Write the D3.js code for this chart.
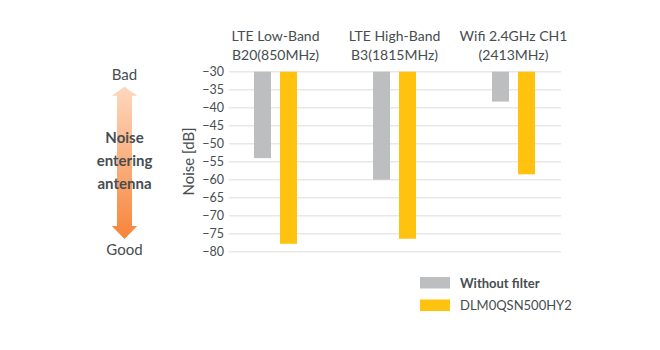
<!DOCTYPE html>
<html>
<head>
<meta charset="utf-8">
<script src="https://cdn.jsdelivr.net/npm/d3@7"></script>
<style>
  body { margin: 0; background: #fff; }
  text { font-family: "Lato", "Liberation Sans", sans-serif; fill: #464d50; }
</style>
</head>
<body>
<div id="chart"></div>
<script>
// chart data
let bands = ["LTE Low-Band|B20(850MHz)", "LTE High-Band|B3(1815MHz)", "Wifi 2.4GHz CH1|(2413MHz)"];
let seriesNames = ["Without filter", "DLM0QSN500HY2"];
let withoutFilter = [-54, -60, -38.3];
let withFilter = [-77.8, -76.4, -58.5];
let yTicks = [-30, -35, -40, -45, -50, -55, -60, -65, -70, -75, -80];
let colors = ["#bcbebf", "#ffc20e"];

let w = 660, h = 350;

let svg = d3.select("#chart").append("svg")
    .attr("width", w)
    .attr("height", h);

// y scale: -30 at top, -80 at bottom
let yScale = d3.scaleLinear()
    .domain([-30, -80])
    .range([71.7, 251.7]);

// groups
let xScale = d3.scaleBand()
    .domain(bands)
    .range([216, 573]);

let xInner = d3.scaleBand()
    .domain(seriesNames)
    .range([0, 43])
    .paddingInner(0.346);

// gridlines
svg.append("g").selectAll("line")
  .data(yTicks)
  .enter().append("line")
    .attr("x1", 229)
    .attr("x2", 561)
    .attr("y1", d => yScale(d))
    .attr("y2", d => yScale(d))
    .attr("stroke", "#e8e8e8")
    .attr("stroke-width", 1.6);

// y axis, only labels
let yAxis = d3.axisLeft(yScale).tickValues(yTicks).tickSize(0).tickPadding(0);
let yAxisGroup = svg.append("g")
    .attr("transform", "translate(224,0)")
    .call(yAxis);
yAxisGroup.select(".domain").remove();
yAxisGroup.selectAll("text")
    .style("font-size", "12.5px")
    .attr("fill", "#464d50");

// axis title
svg.append("text")
    .attr("transform", "translate(194,161.5) rotate(-90)")
    .attr("text-anchor", "middle")
    .style("font-size", "15px")
    .text("Noise [dB]");

// bars
let barData = [];
bands.forEach((b, i) => {
  barData.push({band: b, s: seriesNames[0], v: withoutFilter[i], c: colors[0]});
  barData.push({band: b, s: seriesNames[1], v: withFilter[i], c: colors[1]});
});

let groupOffset = (xScale.bandwidth() - 43) / 2;

svg.append("g").selectAll("rect")
  .data(barData)
  .enter().append("rect")
    .attr("x", d => xScale(d.band) + groupOffset + xInner(d.s))
    .attr("width", xInner.bandwidth())
    .attr("y", yScale(-30))
    .attr("height", d => yScale(d.v) - yScale(-30))
    .attr("fill", d => d.c);

// category labels
let catLabels = svg.append("g").selectAll("text")
  .data(bands)
  .enter().append("text")
    .attr("text-anchor", "middle")
    .attr("x", d => xScale(d) + xScale.bandwidth() / 2)
    .attr("y", 41)
    .style("font-size", "14px");
catLabels.append("tspan").text(d => d.split("|")[0]);
catLabels.append("tspan")
    .attr("x", d => xScale(d) + xScale.bandwidth() / 2)
    .attr("dy", 19)
    .text(d => d.split("|")[1]);

// legend
let legend = svg.append("g").attr("transform", "translate(420,277)");
seriesNames.forEach((s, i) => {
  legend.append("rect")
    .attr("x", 0)
    .attr("y", i * 22.5)
    .attr("width", 30)
    .attr("height", 11.5)
    .attr("fill", colors[i]);
  legend.append("text")
    .attr("x", 40)
    .attr("y", i * 22.5 + 10.5)
    .style("font-size", "13px")
    .style("font-weight", i == 0 ? "bold" : "normal")
    .text(s);
});

// left annotation: double arrow with gradient
let defs = svg.append("defs");
let grad = defs.append("linearGradient")
    .attr("id", "arrowGrad")
    .attr("x1", 0).attr("y1", 0).attr("x2", 0).attr("y2", 1);
grad.append("stop").attr("offset", "0%").attr("stop-color", "#fdd8bf");
grad.append("stop").attr("offset", "100%").attr("stop-color", "#f7843a");

let ax = 124.5;
let arrowTop = 86.7, arrowBottom = 239;
let path = d3.path();
path.moveTo(ax, arrowTop);
path.lineTo(ax + 12.7, arrowTop + 9);
path.lineTo(ax + 7.5, arrowTop + 9);
path.lineTo(ax + 7.5, arrowBottom - 13);
path.lineTo(ax + 12.7, arrowBottom - 13);
path.lineTo(ax, arrowBottom);
path.lineTo(ax - 12.7, arrowBottom - 13);
path.lineTo(ax - 7.5, arrowBottom - 13);
path.lineTo(ax - 7.5, arrowTop + 9);
path.lineTo(ax - 12.7, arrowTop + 9);
path.closePath();
svg.append("path")
    .attr("d", path.toString())
    .attr("fill", "url(#arrowGrad)");

svg.append("text")
    .attr("x", ax).attr("y", 79.5)
    .attr("text-anchor", "middle")
    .style("font-size", "15px")
    .text("Bad");
svg.append("text")
    .attr("x", ax).attr("y", 254.5)
    .attr("text-anchor", "middle")
    .style("font-size", "15px")
    .text("Good");

let mid = svg.append("text")
    .attr("text-anchor", "middle")
    .style("font-size", "15px")
    .style("font-weight", "bold");
["Noise", "entering", "antenna"].forEach((t, i) => {
  mid.append("tspan")
    .attr("x", ax)
    .attr("y", 143 + i * 23)
    .text(t);
});
</script>
</body>
</html>
